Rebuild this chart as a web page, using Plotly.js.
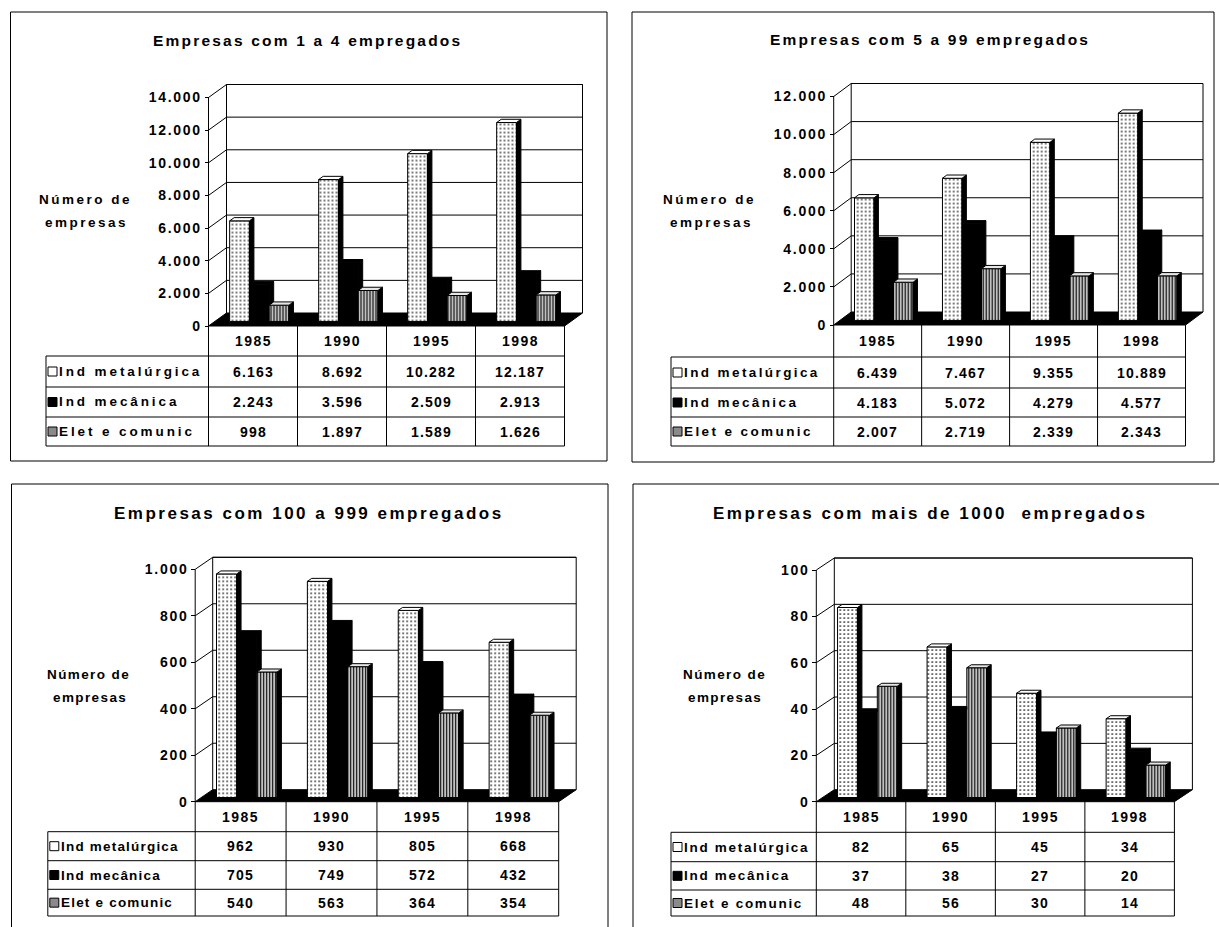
<!DOCTYPE html>
<html><head><meta charset="utf-8">
<script src="https://cdn.plot.ly/plotly-3.0.1.min.js"></script>
<style>body{margin:0;background:#fff}</style>
</head><body><div id="chart" style="width:1219px;height:927px"></div>
<script>
// ---------------- DATA ----------------
const years = ['1985', '1990', '1995', '1998'];
const seriesNames = ['Ind metalúrgica', 'Ind mecânica', 'Elet e comunic'];
const titles = ['Empresas com 1 a 4 empregados', 'Empresas com 5 a 99 empregados',
                'Empresas com 100 a 999 empregados', 'Empresas com mais de 1000\u00a0 empregados'];
const axisLabel = ['Número de', 'empresas'];

const metal_1a4 = [6163, 8692, 10282, 12187];
const mec_1a4   = [2243, 3596, 2509, 2913];
const elet_1a4  = [998, 1897, 1589, 1626];

const metal_5a99 = [6439, 7467, 9355, 10889];
const mec_5a99   = [4183, 5072, 4279, 4577];
const elet_5a99  = [2007, 2719, 2339, 2343];

const metal_100a999 = [962, 930, 805, 668];
const mec_100a999   = [705, 749, 572, 432];
const elet_100a999  = [540, 563, 364, 354];

const metal_1000 = [82, 65, 45, 34];
const mec_1000   = [37, 38, 27, 20];
const elet_1000  = [48, 56, 30, 14];

const yTicks_1a4 = [0, 2000, 4000, 6000, 8000, 10000, 12000, 14000];
const yTicks_5a99 = [0, 2000, 4000, 6000, 8000, 10000, 12000];
const yTicks_100a999 = [0, 200, 400, 600, 800, 1000];
const yTicks_1000 = [0, 20, 40, 60, 80, 100];

// ---------------- LAYOUT GEOMETRY (pixels) ----------------
const W = 1219, H = 927;
const px = x => x / W, py = y => 1 - y / H;
const FONT = 'Liberation Sans, Arial, sans-serif';

const geo = [
  {box:[10.5,12,607,461], title:[307,41], xl:208.5, xr:564.5, y0:326, yt:97.5, dx:18, dy:13,
   rows:[326,356,387,417,446], lab:46, ylab:[[85,199],[86.5,222]], tf:15.5, tls:2.2, labLs:2.9, nLs:2.5},
  {box:[632,12,1214,462], title:[930,40], xl:833.7, xr:1185.5, y0:325, yt:96.5, dx:17.5, dy:13,
   rows:[325,357,388,417,446], lab:671, ylab:[[709.6,199],[712,222]], tf:15.5, tls:2.2, labLs:2.4, nLs:2.5},
  {box:[11.5,484,608,945], title:[309,513], xl:195.2, xr:558.7, y0:801.7, yt:569.3, dx:17.5, dy:12,
   rows:[801.7,831.7,860.7,889.3,916], lab:47.8, ylab:[[89,674],[89.5,697]], tf:17, tls:2.5, labLs:1.2, nLs:1.4},
  {box:[633,484,1230,945], title:[930.6,513], xl:816.3, xr:1174.4, y0:801.7, yt:570, dx:18, dy:12,
   rows:[801.7,832.3,861.7,890,916], lab:671, ylab:[[724.8,674],[725,697]], tf:17, tls:2.5, labLs:1.7, nLs:1.4}
];

const panels = [
  {title: titles[0], vals: [metal_1a4, mec_1a4, elet_1a4], ticks: yTicks_1a4},
  {title: titles[1], vals: [metal_5a99, mec_5a99, elet_5a99], ticks: yTicks_5a99},
  {title: titles[2], vals: [metal_100a999, mec_100a999, elet_100a999], ticks: yTicks_100a999},
  {title: titles[3], vals: [metal_1000, mec_1000, elet_1000], ticks: yTicks_1000}
];

const faceStyle = [
  {front:{color:'#fff', pattern:{shape:'.', fgcolor:'#000', bgcolor:'#fff', size:4, solidity:0.15}}, top:'#fff', side:'#000', icon:'#fff'},
  {front:{color:'#000'}, top:'#000', side:'#000', icon:'#000'},
  {front:{color:'#fff', pattern:{shape:'|', fgcolor:'#000', bgcolor:'#fff', size:3, solidity:0.5}}, top:'#e6e6e6', side:'#000', icon:'#8a8a8a'}
];

const t1 = 0.35, t2 = 0.6, BW = 0.222;
const fmt = v => String(v).replace(/\B(?=(\d{3})+(?!\d))/g, '.');
const sp = (s, ls) => `<b><span style="letter-spacing:${ls}px">${s}</span></b>`;

const data = [], shapes = [], annotations = [];
const layout = {width:W, height:H, margin:{l:0,r:0,t:0,b:0}, paper_bgcolor:'#fff',
  plot_bgcolor:'rgba(0,0,0,0)', showlegend:false, barmode:'overlay', shapes, annotations};

const sh = o => shapes.push(Object.assign({line:{color:'#000', width:1}}, o));
const ann = o => annotations.push(Object.assign({showarrow:false, font:{family:FONT, size:14, color:'#000'},
  xanchor:'center', yanchor:'middle', borderpad:0}, o));

panels.forEach((p, k) => {
  const g = geo[k];
  const n = k ? String(k + 1) : '';
  const xa = 'x' + n, ya = 'y' + n;
  const ymax = p.ticks[p.ticks.length - 1];
  const kx = (g.xr - g.xl) / 4, ky = (g.y0 - g.yt) / ymax;
  const DX = g.dx / kx, DY = g.dy / ky;
  const m = 2;
  layout['xaxis' + n] = {domain:[px(g.xl - m), px(g.xr + g.dx + m)], range:[-0.5 - m / kx, 3.5 + DX + m / kx],
    anchor: ya, visible:false, fixedrange:true};
  layout['yaxis' + n] = {domain:[py(g.y0 + m), py(g.yt - g.dy - m)], range:[-m / ky, ymax + DY + m / ky],
    anchor:'free', position:px(g.xl), showgrid:false, zeroline:false, showline:false,
    ticks:'outside', ticklen:4, tickwidth:1, tickcolor:'#000', tickmode:'array',
    tickvals:p.ticks, ticktext:p.ticks.map(v => sp(fmt(v), 1.7)),
    tickfont:{family:FONT, size:14, color:'#000'}, fixedrange:true};

  // panel border
  sh({type:'rect', xref:'paper', yref:'paper', x0:px(g.box[0]), x1:px(g.box[2]), y0:py(g.box[3]), y1:py(g.box[1])});
  // floor
  sh({type:'path', xref:xa, yref:ya, layer:'below', fillcolor:'#000',
      path:`M-0.5,0L3.5,0L${3.5 + DX},${DY}L${-0.5 + DX},${DY}Z`});
  // back wall outline
  sh({type:'path', xref:xa, yref:ya, layer:'below',
      path:`M${-0.5 + DX},${DY}L${-0.5 + DX},${ymax + DY}L${3.5 + DX},${ymax + DY}L${3.5 + DX},${DY}`});
  // gridlines (back wall + side wall)
  p.ticks.forEach(v => {
    if (v === 0) return;
    sh({type:'line', xref:xa, yref:ya, layer:'below', x0:-0.5 + DX, x1:3.5 + DX, y0:v + DY, y1:v + DY});
    sh({type:'line', xref:xa, yref:ya, layer:'below', x0:-0.5, x1:-0.5 + DX, y0:v, y1:v + DY});
  });
  // front axis line
  sh({type:'line', xref:xa, yref:ya, x0:-0.5, x1:-0.5, y0:0, y1:ymax});

  // data table grid
  const r = g.rows;
  for (let i = 0; i <= 4; i++) {
    const x = g.xl + i * kx;
    sh({type:'line', xref:'paper', yref:'paper', x0:px(x), x1:px(x), y0:py(r[0]), y1:py(r[4])});
  }
  for (let j = 1; j <= 4; j++)
    sh({type:'line', xref:'paper', yref:'paper', x0:px(g.lab), x1:px(g.xr), y0:py(r[j]), y1:py(r[j])});
  sh({type:'line', xref:'paper', yref:'paper', x0:px(g.lab), x1:px(g.lab), y0:py(r[1]), y1:py(r[4])});

  // texts
  ann({xref:'paper', yref:'paper', x:px(g.title[0]), y:py(g.title[1]), text:sp(p.title, g.tls),
       font:{family:FONT, size:g.tf, color:'#000'}});
  axisLabel.forEach((t, j) => ann({xref:'paper', yref:'paper', x:px(g.ylab[j][0]), y:py(g.ylab[j][1]),
       text:sp(t, g.nLs), font:{family:FONT, size:13.5, color:'#000'}}));
  years.forEach((yr, i) => ann({xref:xa, yref:'paper', x:i, y:py((r[0] + r[1]) / 2), text:sp(yr, 1.5)}));
  p.vals.forEach((arr, s) => arr.forEach((v, i) =>
    ann({xref:xa, yref:'paper', x:i, y:py((r[s + 1] + r[s + 2]) / 2), text:sp(fmt(v), 1.2)})));
  seriesNames.forEach((nm, s) => {
    const yc = (r[s + 1] + r[s + 2]) / 2;
    ann({xref:'paper', yref:'paper', x:px(g.lab + 12), xanchor:'left', y:py(yc), text:sp(nm, g.labLs),
         font:{family:FONT, size:13.5, color:'#000'}});
    sh({type:'rect', xref:'paper', yref:'paper', x0:px(g.lab + 2), x1:px(g.lab + 11),
        y0:py(yc + 4.5), y1:py(yc - 4.5), fillcolor:faceStyle[s].icon});
  });

  // bars: front faces
  const b0 = t1 * DY, ddx = (t2 - t1) * DX, ddy = (t2 - t1) * DY;
  p.vals.forEach((arr, s) => {
    data.push({type:'bar', xaxis:xa, yaxis:ya, x:[0, 1, 2, 3], y:arr, base:b0, width:BW,
      offset:t1 * DX + (s - 1.5) * BW,
      marker:Object.assign({line:{color:'#000', width:1}}, faceStyle[s].front),
      hoverinfo:'skip', showlegend:false});
  });
  // 3D side and top faces
  const poly = (xs, ys, color) => data.push({type:'scatter', mode:'lines', xaxis:xa, yaxis:ya, x:xs, y:ys,
    fill:'toself', fillcolor:color, line:{color:'#000', width:1}, hoverinfo:'skip', showlegend:false});
  p.vals.forEach((arr, s) => {
    arr.forEach((v, i) => {
      const xl = i + t1 * DX + (s - 1.5) * BW, xr = xl + BW, T = b0 + v;
      const next = s < 2 ? p.vals[s + 1][i] : null;
      if (next === null || next < v) {
        const bot = next === null ? b0 : b0 + next;
        poly([xr, xr + ddx, xr + ddx, xr, xr], [bot, bot + ddy, T + ddy, T, bot], faceStyle[s].side);
      }
      if (next !== null && next > v)
        poly([xl, xr, xr, xl + ddx, xl], [T, T, T + ddy, T + ddy, T], faceStyle[s].top);
      else
        poly([xl, xr, xr + ddx, xl + ddx, xl], [T, T, T + ddy, T + ddy, T], faceStyle[s].top);
    });
  });
});

Plotly.newPlot('chart', data, layout, {staticPlot:true, displayModeBar:false});
</script>
</body></html>
